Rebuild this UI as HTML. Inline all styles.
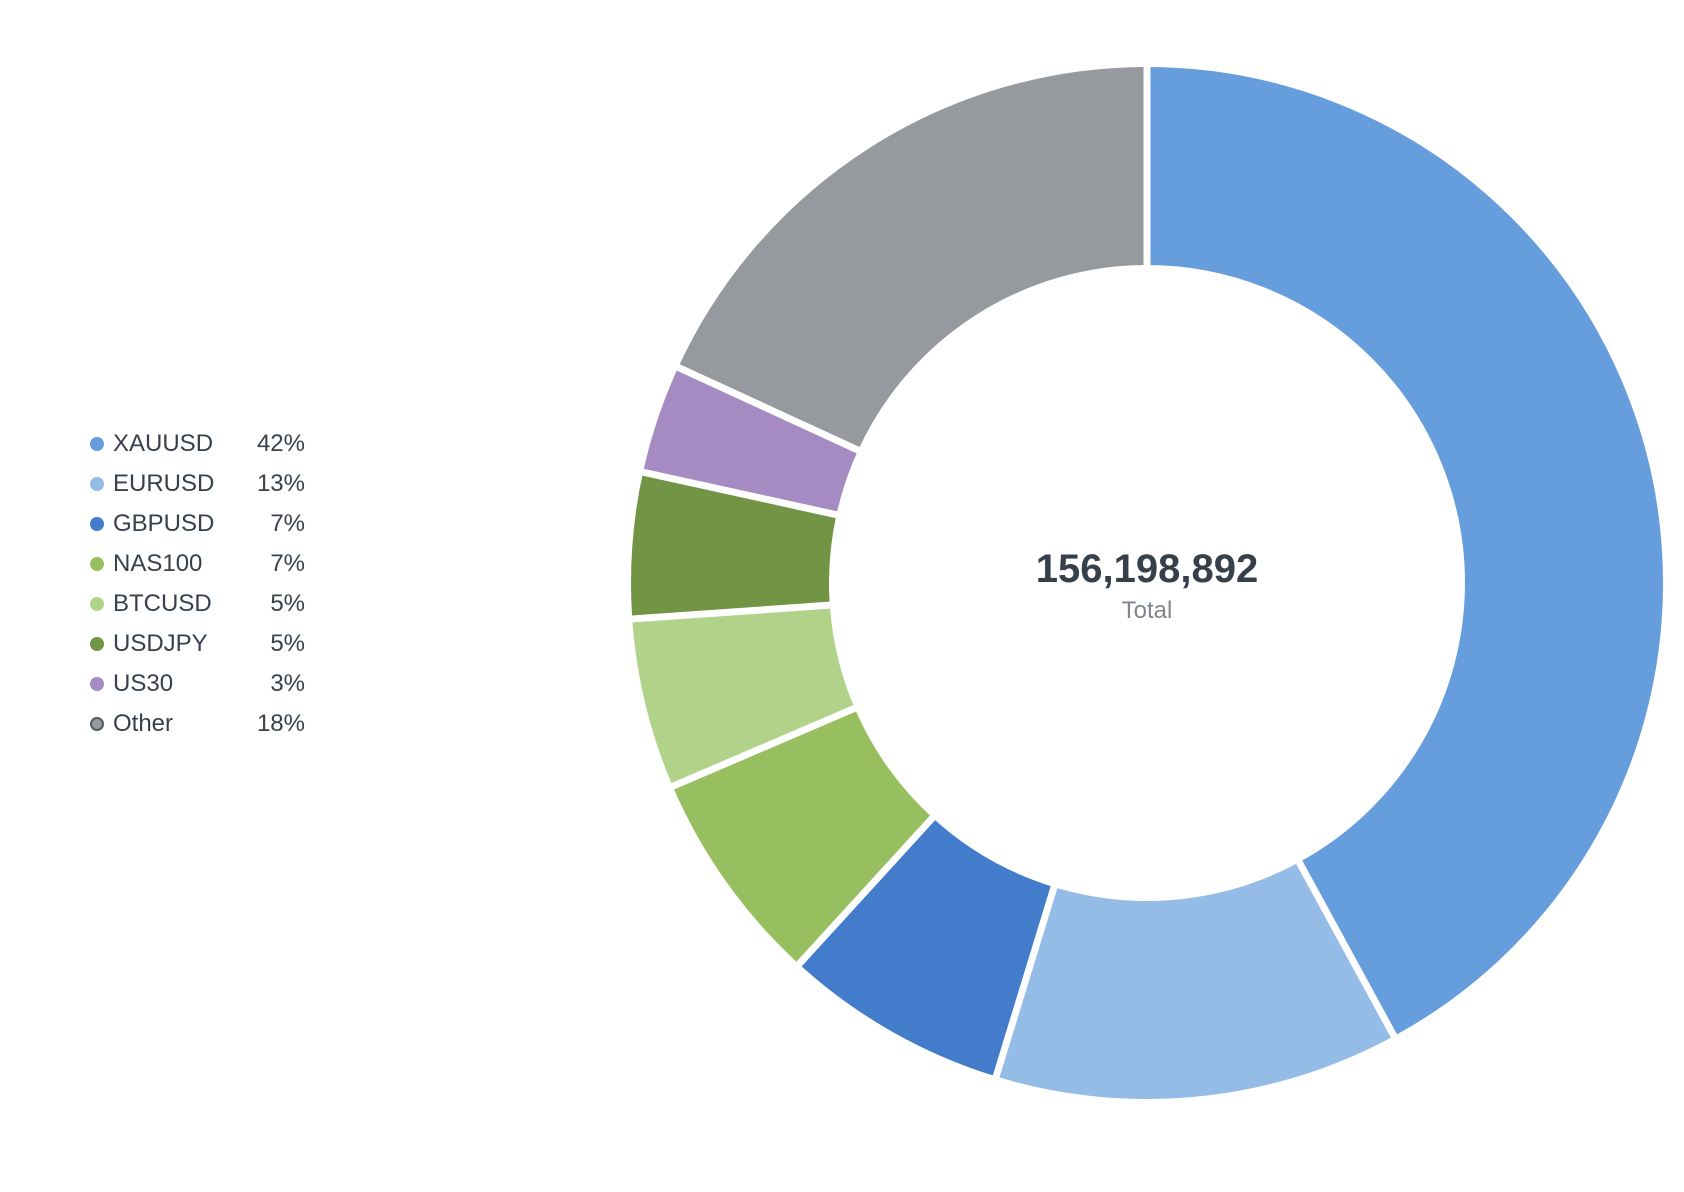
<!DOCTYPE html>
<html><head><meta charset="utf-8"><style>
html,body{margin:0;padding:0;background:#fff;}
body{width:1684px;height:1192px;position:relative;overflow:hidden;font-family:"Liberation Sans",sans-serif;}
.lg{position:absolute;left:0;top:0;}
.row{position:absolute;left:90px;width:215px;height:30px;font-size:24px;color:#37404b;line-height:30px;}
.row .d{position:absolute;left:0;top:8px;width:14px;height:14px;border-radius:50%;}
.row .n{position:absolute;left:23px;}
.row .p{position:absolute;right:0;}
</style></head><body>
<svg width="1684" height="1192" style="position:absolute;left:0;top:0">
<g transform="translate(1147,583) rotate(-90)" fill="none" stroke-width="198">
<circle r="417" stroke="#669ddc" stroke-dasharray="1101.9 3000" stroke-dashoffset="0"/>
<circle r="417" stroke="#94bce6" stroke-dasharray="331.9 3000" stroke-dashoffset="-1101.9"/>
<circle r="417" stroke="#427ccb" stroke-dasharray="184.9 3000" stroke-dashoffset="-1433.8"/>
<circle r="417" stroke="#97bf5f" stroke-dasharray="177.6 3000" stroke-dashoffset="-1618.7"/>
<circle r="417" stroke="#b0d289" stroke-dasharray="139.7 3000" stroke-dashoffset="-1796.3"/>
<circle r="417" stroke="#719545" stroke-dasharray="119.4 3000" stroke-dashoffset="-1936.0"/>
<circle r="417" stroke="#a68bc2" stroke-dasharray="89.5 3000" stroke-dashoffset="-2055.4"/>
<circle r="417" stroke="#96999e" stroke-dasharray="475.3 3000" stroke-dashoffset="-2144.9"/>
</g>
<g transform="translate(1147,583)" stroke="#fff" stroke-width="7">
<line x1="0" y1="-300" x2="0" y2="-530" transform="rotate(0)"/>
<line x1="0" y1="-300" x2="0" y2="-530" transform="rotate(151.4)"/>
<line x1="0" y1="-300" x2="0" y2="-530" transform="rotate(197)"/>
<line x1="0" y1="-300" x2="0" y2="-530" transform="rotate(222.4)"/>
<line x1="0" y1="-300" x2="0" y2="-530" transform="rotate(246.8)"/>
<line x1="0" y1="-300" x2="0" y2="-530" transform="rotate(266)"/>
<line x1="0" y1="-300" x2="0" y2="-530" transform="rotate(282.4)"/>
<line x1="0" y1="-300" x2="0" y2="-530" transform="rotate(294.7)"/>
</g>
<text x="1147" y="582" text-anchor="middle" font-family="Liberation Sans, sans-serif" font-weight="bold" font-size="40" fill="#36404b">156,198,892</text>
<text x="1147" y="618" text-anchor="middle" font-family="Liberation Sans, sans-serif" font-size="24" fill="#80868e">Total</text>
</svg>
<div class="row" style="top:429px"><span class="d" style="background:#669ddc"></span><span class="n">XAUUSD</span><span class="p">42%</span></div>
<div class="row" style="top:469px"><span class="d" style="background:#94bce6"></span><span class="n">EURUSD</span><span class="p">13%</span></div>
<div class="row" style="top:509px"><span class="d" style="background:#427ccb"></span><span class="n">GBPUSD</span><span class="p">7%</span></div>
<div class="row" style="top:549px"><span class="d" style="background:#97bf5f"></span><span class="n">NAS100</span><span class="p">7%</span></div>
<div class="row" style="top:589px"><span class="d" style="background:#b0d289"></span><span class="n">BTCUSD</span><span class="p">5%</span></div>
<div class="row" style="top:629px"><span class="d" style="background:#719545"></span><span class="n">USDJPY</span><span class="p">5%</span></div>
<div class="row" style="top:669px"><span class="d" style="background:#a68bc2"></span><span class="n">US30</span><span class="p">3%</span></div>
<div class="row" style="top:709px"><span class="d" style="background:#96999e;border:2px solid #555b63;box-sizing:border-box"></span><span class="n">Other</span><span class="p">18%</span></div>
</body></html>
